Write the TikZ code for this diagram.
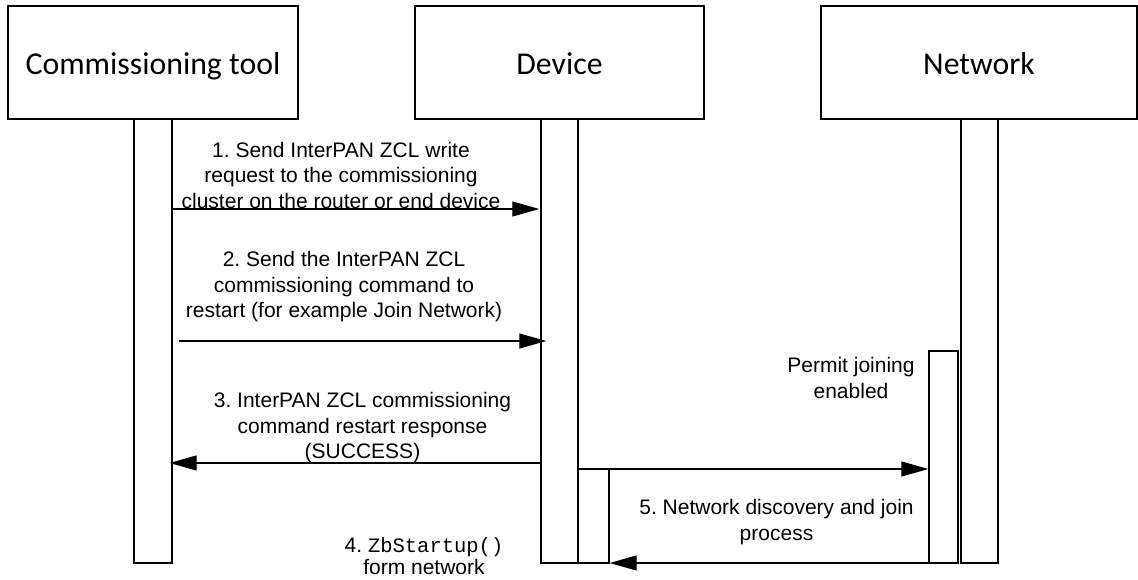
\documentclass[tikz,border=0pt]{standalone}
\usepackage{fontspec}
\setmainfont{Liberation Sans}
\newfontfamily\headfont{Carlito}
\setmonofont{Liberation Mono}
\usetikzlibrary{arrows.meta}
\frenchspacing
\begin{document}
\begin{tikzpicture}[x=1pt,y=-1pt,
  headbox/.style={draw,line width=1.6pt,inner sep=0pt,text height=25pt,text depth=2pt,font=\headfont\fontsize{31.8}{36}\selectfont},
  lifebar/.style={draw,line width=1.4pt,fill=white,inner sep=0pt,minimum width=#1},
  msg/.style={line width=1.3pt,-{Triangle[length=27pt,width=15pt]}},
  lbl/.style={align=center,inner sep=0pt,font=\fontsize{21}{25.5}\selectfont}]
\useasboundingbox (0,0) rectangle (1138,579);
% header boxes
\node[headbox,minimum width=290pt,minimum height=113pt] (tool) at (153,62.5) {Commissioning tool};
\node[headbox,minimum width=289pt,minimum height=113pt] (dev) at (559.5,62.5) {Device};
\node[headbox,minimum width=316pt,minimum height=113pt] (net) at (979,62.5) {Network};
% lifelines
\node[lifebar=38pt,minimum height=444pt] (tl) at (153,341) {};
\node[lifebar=37pt,minimum height=444pt] (dl) at (559.5,341) {};
\node[lifebar=37pt,minimum height=444pt] (nl) at (979.5,341) {};
% activation bars
\node[lifebar=31pt,minimum height=94pt] (da) at (593.5,516) {};
\node[lifebar=29pt,minimum height=212pt] (na) at (943.5,457) {};
% message rows
\coordinate (r1) at (0,209);
\coordinate (r2) at (0,341);
\coordinate (r3) at (0,463);
\coordinate (r4) at (0,469);
\coordinate (r5) at (0,563);
\draw[msg] (tl.east |- r1) -- ([xshift=-1pt]dl.west |- r1);
\draw[msg] ([xshift=6pt]tl.east |- r2) -- ([xshift=6pt]dl.west |- r2);
\draw[msg] (dl.west |- r3) -- ([xshift=-3pt]tl.east |- r3);
\draw[msg] (dl.east |- r4) -- (na.west |- r4);
\draw[msg] (na.west |- r5) -- (da.east |- r5);
% labels
\node[lbl] (l1) at (341,175) {1. Send InterPAN ZCL write\\request to the commissioning\\cluster on the router or end device};
\node[lbl] (l2) at (344,287) {2. Send the InterPAN ZCL\\commissioning command to\\restart (for example Join Network)};
\node[lbl] (l3) at (362.5,428) {3. InterPAN ZCL commissioning\\command restart response\\(SUCCESS)};
\node[lbl,font=\fontsize{21}{22.5}\selectfont] (l4) at (424,556) {4. {\ttfamily\fontsize{20.5}{22.5}\selectfont ZbStartup()}\\form network};
\node[lbl] (l5) at (776.5,522) {5. Network discovery and join\\process};
\node[lbl] (lp) at (851,378) {Permit joining\\enabled};
\end{tikzpicture}
\end{document}
